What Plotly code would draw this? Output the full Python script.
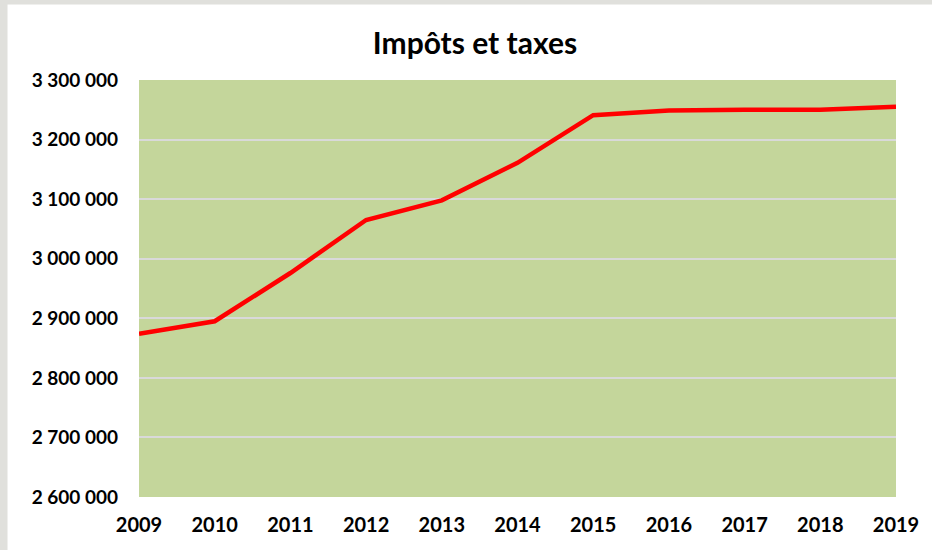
import plotly.graph_objects as go

years = [2009, 2010, 2011, 2012, 2013, 2014, 2015, 2016, 2017, 2018, 2019]
impots = [2874000, 2895000, 2976000, 3065000, 3098000, 3161000, 3241000, 3249000, 3250000, 3250000, 3255000]
y_ticks = [2600000, 2700000, 2800000, 2900000, 3000000, 3100000, 3200000, 3300000]
title_text = "Impôts et taxes"

W, H = 932, 550
L, R, T, B = 139, 36, 80, 53
pw, ph = W - L - R, H - T - B

def px_x(x):
    return (x - L) / pw

def px_y(y):
    return (H - B - y) / ph

fig = go.Figure()
fig.add_trace(go.Scatter(
    x=years, y=impots, mode="lines",
    line=dict(color="#ff0000", width=4.5),
    hoverinfo="skip", showlegend=False,
))

gray = "#e0e0dc"
fig.add_shape(type="rect", xref="paper", yref="paper",
              x0=px_x(0), x1=px_x(7.5), y0=px_y(H), y1=px_y(0),
              fillcolor=gray, line_width=0, layer="above")
fig.add_shape(type="rect", xref="paper", yref="paper",
              x0=px_x(0), x1=px_x(W), y0=px_y(4.5), y1=px_y(0),
              fillcolor=gray, line_width=0, layer="above")

font_family = "Lato, 'Open Sans', sans-serif"
fig.update_layout(
    width=W, height=H,
    margin=dict(l=L, r=R, t=T, b=B),
    paper_bgcolor="white",
    plot_bgcolor="#c4d69b",
    separators=", ",
    title=dict(text="<b>" + title_text + "</b>", x=475 / W, xanchor="center",
               y=1 - 43 / H, yanchor="middle",
               font=dict(family=font_family, size=30, color="black")),
    xaxis=dict(
        range=[2009, 2019], tickmode="array", tickvals=years,
        ticktext=[f"<b>{y}</b>" for y in years],
        showgrid=False, zeroline=False, showline=False,
        ticks="", ticklabelstandoff=14,
        tickfont=dict(family=font_family, size=20, color="black"),
    ),
    yaxis=dict(
        range=[2600000, 3300000], tickmode="array", tickvals=y_ticks,
        ticktext=["<b>" + f"{v:,}".replace(",", " ") + "</b>" for v in y_ticks],
        showgrid=True, gridcolor="#d9d9d9", gridwidth=1.5,
        zeroline=False, showline=False, ticks="", ticklabelstandoff=20,
        tickfont=dict(family=font_family, size=19, color="black"),
    ),
)

fig.write_html("out.html", config={"displayModeBar": False},
               post_script="document.body.style.margin='0';")
